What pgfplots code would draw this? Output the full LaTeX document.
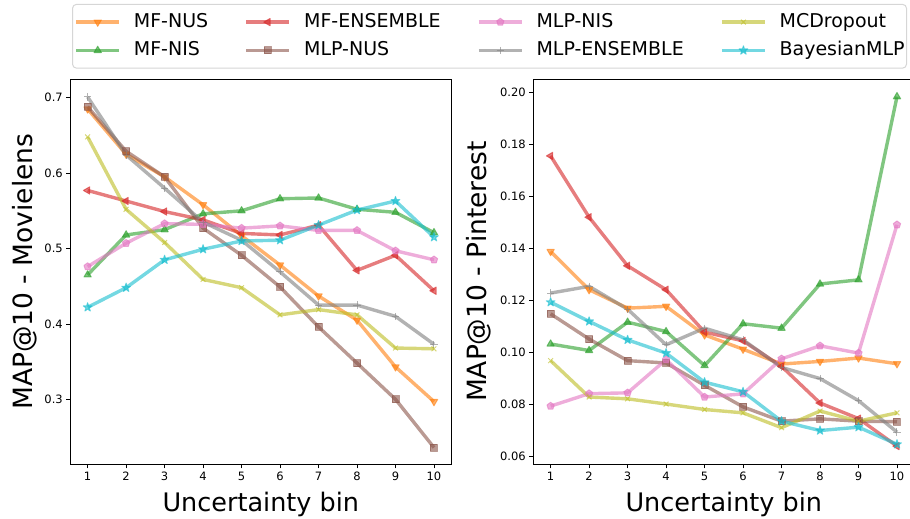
\documentclass[border=0pt]{standalone}
\usepackage{fontspec}
\setmainfont{DejaVu Sans}
\usepackage{pgfplots}
\usepackage{pgfplotstable}
\pgfplotsset{compat=1.18}
\usetikzlibrary{plotmarks}

\definecolor{cOrange}{HTML}{FF7F0E}
\definecolor{cGreen}{HTML}{2CA02C}
\definecolor{cRed}{HTML}{D62728}
\definecolor{cBrown}{HTML}{8C564B}
\definecolor{cPink}{HTML}{E377C2}
\definecolor{cGray}{HTML}{7F7F7F}
\definecolor{cOlive}{HTML}{BCBD22}
\definecolor{cCyan}{HTML}{17BECF}
\definecolor{legframe}{HTML}{D6D6D6}

% filled five-pointed star, like matplotlib's '*'
\pgfdeclareplotmark{fstar}{%
  \pgfpathmoveto{\pgfpointpolar{90}{\pgfplotmarksize}}%
  \pgfpathlineto{\pgfpointpolar{126}{0.382\pgfplotmarksize}}%
  \pgfpathlineto{\pgfpointpolar{162}{\pgfplotmarksize}}%
  \pgfpathlineto{\pgfpointpolar{198}{0.382\pgfplotmarksize}}%
  \pgfpathlineto{\pgfpointpolar{234}{\pgfplotmarksize}}%
  \pgfpathlineto{\pgfpointpolar{270}{0.382\pgfplotmarksize}}%
  \pgfpathlineto{\pgfpointpolar{306}{\pgfplotmarksize}}%
  \pgfpathlineto{\pgfpointpolar{342}{0.382\pgfplotmarksize}}%
  \pgfpathlineto{\pgfpointpolar{18}{\pgfplotmarksize}}%
  \pgfpathlineto{\pgfpointpolar{54}{0.382\pgfplotmarksize}}%
  \pgfpathclose
  \pgfusepathqfillstroke}

\pgfplotstableread{
bin mfnus mfnis mfens mlpnus mlpnis mlpens mcd bmlp
1  0.685 0.465 0.577 0.688 0.476 0.701 0.648 0.422
2  0.625 0.518 0.563 0.629 0.507 0.624 0.552 0.448
3  0.595 0.525 0.549 0.595 0.533 0.580 0.508 0.485
4  0.558 0.546 0.538 0.527 0.532 0.535 0.459 0.499
5  0.517 0.550 0.520 0.491 0.527 0.511 0.448 0.510
6  0.478 0.566 0.518 0.449 0.530 0.469 0.412 0.511
7  0.437 0.567 0.531 0.396 0.524 0.425 0.419 0.531
8  0.405 0.552 0.471 0.348 0.524 0.425 0.412 0.551
9  0.343 0.548 0.491 0.300 0.497 0.410 0.368 0.563
10 0.297 0.521 0.444 0.236 0.485 0.373 0.367 0.515
}\movie

\pgfplotstableread{
bin mfnus mfnis mfens mlpnus mlpnis mlpens mcd bmlp
1  0.1387 0.1031 0.1755 0.1147 0.0792 0.1227 0.0967 0.1192
2  0.1240 0.1006 0.1519 0.1050 0.0840 0.1253 0.0827 0.1118
3  0.1169 0.1115 0.1332 0.0967 0.0843 0.1165 0.0820 0.1047
4  0.1176 0.1079 0.1240 0.0958 0.0971 0.1028 0.0800 0.0996
5  0.1066 0.0948 0.1077 0.0872 0.0827 0.1092 0.0779 0.0884
6  0.1011 0.1109 0.1043 0.0789 0.0839 0.1047 0.0766 0.0847
7  0.0954 0.1092 0.0945 0.0734 0.0974 0.0941 0.0709 0.0734
8  0.0964 0.1262 0.0804 0.0743 0.1024 0.0898 0.0773 0.0698
9  0.0977 0.1278 0.0744 0.0734 0.0996 0.0813 0.0734 0.0711
10 0.0955 0.1983 0.0638 0.0732 0.1490 0.0692 0.0766 0.0645
}\pin

\pgfplotsset{
  ser/.style={color=#1, line width=3.4bp, opacity=0.6, line join=round},
  mfnus/.style={ser=cOrange, mark=triangle*, mark options={solid, rotate=180, mark size=4.2bp, line width=1bp, fill=cOrange}},
  mfnis/.style={ser=cGreen, mark=triangle*, mark options={solid, mark size=4.2bp, line width=1bp, fill=cGreen}},
  mfens/.style={ser=cRed, mark=triangle*, mark options={solid, rotate=90, mark size=4.2bp, line width=1bp, fill=cRed}},
  mlpnus/.style={ser=cBrown, mark=square*, mark options={solid, mark size=3.5bp, line width=1bp, fill=cBrown}},
  mlpnis/.style={ser=cPink, mark=pentagon*, mark options={solid, mark size=3.8bp, line width=1bp, fill=cPink}},
  mlpens/.style={ser=cGray, mark=+, mark options={solid, mark size=3.6bp, line width=1bp}},
  mcd/.style={ser=cOlive, mark=x, mark options={solid, mark size=3.4bp, line width=1bp}},
  bmlp/.style={ser=cCyan, mark=fstar, mark options={solid, mark size=4.6bp, line width=1bp, fill=cCyan}},
  mapax/.style={
    scale only axis, width=381bp, height=385.3bp,
    xmin=0.55, xmax=10.45, xtick={1,...,10},
    tick pos=left, tick align=outside, major tick length=4bp,
    every tick/.style={black, line width=0.8bp},
    axis line style={line width=0.8bp},
    ticklabel style={font=\fontsize{11.5bp}{13bp}\selectfont},
    /pgf/number format/assume math mode=true,
    xlabel={Uncertainty bin},
    xlabel style={font=\fontsize{25.5bp}{29bp}\selectfont,
      at={(axis description cs:0.5,-0.1212)}, anchor=base},
    ylabel style={font=\fontsize{26.5bp}{30bp}\selectfont},
    legend image code/.code={%
      \draw[mark repeat=2, mark phase=2, ##1] plot coordinates {(0bp,0bp) (21.5bp,0bp) (43bp,0bp)};},
  },
}

\begin{document}
\begin{tikzpicture}
\begin{axis}[mapax, name=left, at={(70.3bp,-79bp)}, anchor=north west,
  ymin=0.2138, ymax=0.7248, ytick={0.3,0.4,0.5,0.6,0.7},
  yticklabel style={/pgf/number format/.cd, fixed, fixed zerofill, precision=1},
  ylabel={MAP@10 - Movielens},
  ylabel style={at={(axis description cs:-0.1005,0.5)}, anchor=base},
  legend columns=4,
  legend style={at={(0.0045,1.195)}, anchor=north west,
    draw=legframe, line width=1bp, rounded corners=4bp, fill=white,
    font=\fontsize{19bp}{22bp}\selectfont, legend cell align=left,
    inner xsep=2bp, inner ysep=9bp,
    nodes={inner sep=0pt, text height=14bp, text depth=3.5bp},
    row sep=10.8bp,
    /tikz/every odd column/.append style={column sep=13bp},
    /tikz/every even column/.append style={column sep=36.5bp}},
]
\addplot[mfnus, forget plot] table[x=bin, y=mfnus] {\movie};
\addplot[mfnis, forget plot] table[x=bin, y=mfnis] {\movie};
\addplot[mfens, forget plot] table[x=bin, y=mfens] {\movie};
\addplot[mlpnus, forget plot] table[x=bin, y=mlpnus] {\movie};
\addplot[mlpnis, forget plot] table[x=bin, y=mlpnis] {\movie};
\addplot[mlpens, forget plot] table[x=bin, y=mlpens] {\movie};
\addplot[mcd, forget plot] table[x=bin, y=mcd] {\movie};
\addplot[bmlp, forget plot] table[x=bin, y=bmlp] {\movie};
% legend entries in row order (matplotlib fills its columns first)
\addlegendimage{mfnus}\addlegendentry{MF-NUS}
\addlegendimage{mfens}\addlegendentry{MF-ENSEMBLE}
\addlegendimage{mlpnis}\addlegendentry{MLP-NIS}
\addlegendimage{mcd}\addlegendentry{MCDropout}
\addlegendimage{mfnis}\addlegendentry{MF-NIS}
\addlegendimage{mlpnus}\addlegendentry{MLP-NUS}
\addlegendimage{mlpens}\addlegendentry{MLP-ENSEMBLE}
\addlegendimage{bmlp}\addlegendentry{BayesianMLP}
\end{axis}

\begin{axis}[mapax, name=right, at={(533.3bp,-79bp)}, anchor=north west,
  ymin=0.0568, ymax=0.2051, ytick={0.06,0.08,0.10,0.12,0.14,0.16,0.18,0.20},
  yticklabel style={/pgf/number format/.cd, fixed, fixed zerofill, precision=2},
  ylabel={MAP@10 - Pinterest},
  ylabel style={at={(axis description cs:-0.1223,0.5)}, anchor=base},
]
\addplot[mfnus] table[x=bin, y=mfnus] {\pin};
\addplot[mfnis] table[x=bin, y=mfnis] {\pin};
\addplot[mfens] table[x=bin, y=mfens] {\pin};
\addplot[mlpnus] table[x=bin, y=mlpnus] {\pin};
\addplot[mlpnis] table[x=bin, y=mlpnis] {\pin};
\addplot[mlpens] table[x=bin, y=mlpens] {\pin};
\addplot[mcd] table[x=bin, y=mcd] {\pin};
\addplot[bmlp] table[x=bin, y=bmlp] {\pin};
\end{axis}
\pgfresetboundingbox
\path[use as bounding box] (0bp,0bp) rectangle (910bp,-519bp);
\end{tikzpicture}
\end{document}
